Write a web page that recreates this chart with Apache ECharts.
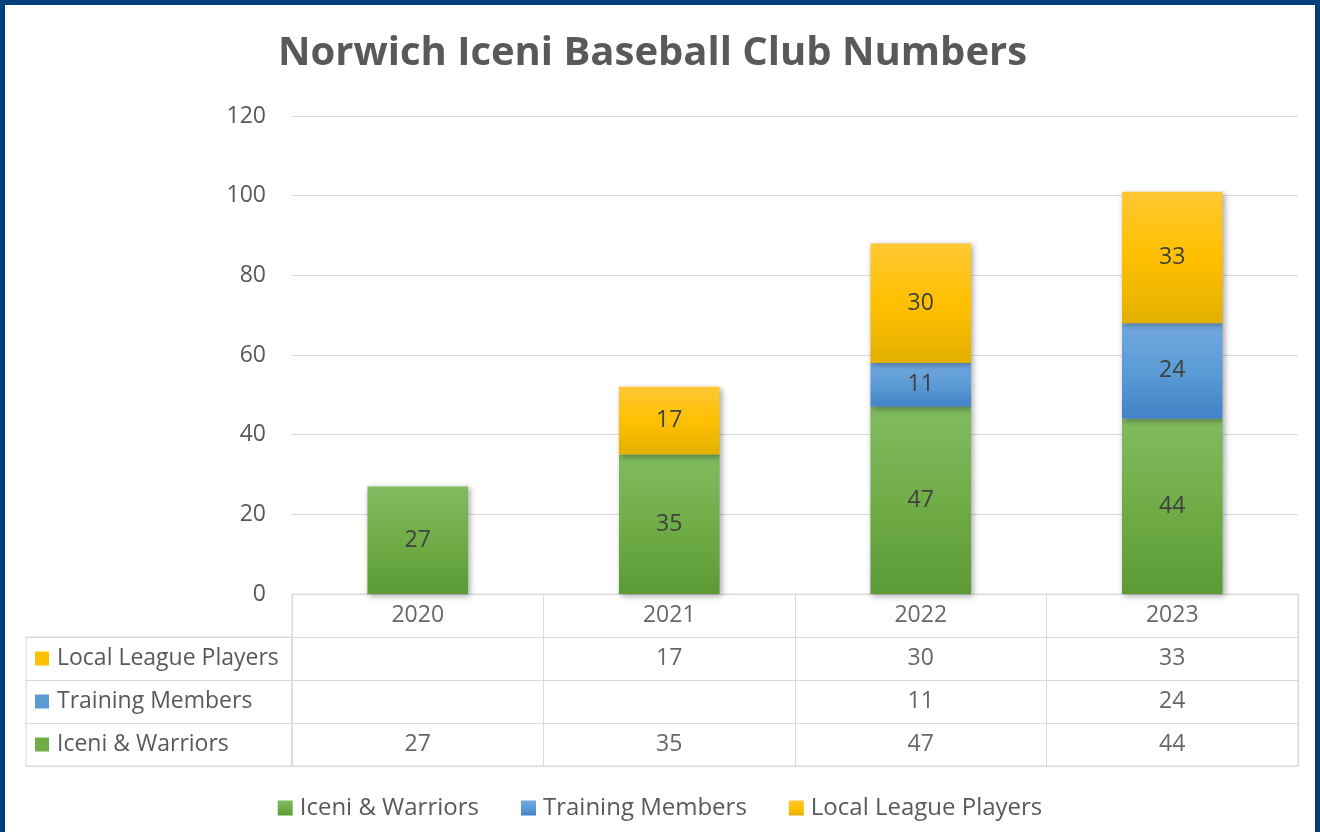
<!DOCTYPE html>
<html>
<head>
<meta charset="utf-8">
<script src="https://cdn.jsdelivr.net/npm/echarts@6/dist/echarts.min.js"></script>
<style>
  html, body { margin: 0; padding: 0; background: #003f7a; }
  #chart { position: absolute; left: 5px; top: 5px; width: 1310px; height: 827px; background: #fff; }
</style>
</head>
<body>
<div id="chart"></div>
<script>
const years = ['2020', '2021', '2022', '2023'];
const seriesNames = ['Iceni & Warriors', 'Training Members', 'Local League Players'];
const iceniWarriors = [27, 35, 47, 44];
const trainingMembers = [null, null, 11, 24];
const localLeague = [null, 17, 30, 33];

const seriesValues = [iceniWarriors, trainingMembers, localLeague];
const baseColors = ['#70ad47', '#5b9bd5', '#ffc000'];
const gradients = [
  ['#80bb60', '#70ad47', '#5c9a35'],
  ['#72a7de', '#5b9bd5', '#4282c6'],
  ['#ffc833', '#ffc000', '#e2b000']
];

const font = '"Open Sans", sans-serif';
const textGray = '#595959';
const gridLine = '#d9d9d9';

const chart = echarts.init(document.getElementById('chart'));

const barSeries = seriesNames.map((name, i) => ({
  name,
  type: 'bar',
  stack: 'total',
  barWidth: '40%',
  xAxisIndex: 0,
  yAxisIndex: 0,
  data: seriesValues[i],
  itemStyle: {
    color: new echarts.graphic.LinearGradient(0, 0, 0, 1, [
      {offset: 0, color: gradients[i][0]},
      {offset: 0.5, color: gradients[i][1]},
      {offset: 1, color: gradients[i][2]}
    ]),
    shadowBlur: 6,
    shadowOffsetX: 2,
    shadowOffsetY: 2,
    shadowColor: 'rgba(0,0,0,0.35)'
  },
  label: {
    show: true,
    position: 'inside',
    color: '#404040',
    fontFamily: font,
    fontSize: 23
  }
}));

// table cells
const headerCells = years.map(y => [y, 'header']);
const valueCells = [];
seriesNames.forEach((name, i) => {
  years.forEach((y, j) => {
    if (seriesValues[i][j] != null) valueCells.push([y, name, seriesValues[i][j]]);
  });
});

const squareKeys = {};
const rich = {t: {fontFamily: font, fontSize: 23, color: textGray, padding: [0, 0, 0, 8]}};
seriesNames.forEach((name, i) => {
  squareKeys[name] = 'sq' + i;
  rich['sq' + i] = {backgroundColor: baseColors[i], width: 14, height: 14};
});

chart.setOption({
  backgroundColor: '#fff',
  animation: false,
  title: {
    text: 'Norwich Iceni Baseball Club Numbers',
    left: 268,
    top: 24,
    textStyle: {fontFamily: font, fontSize: 40, fontWeight: 'bold', color: textGray}
  },
  legend: {
    data: seriesNames,
    bottom: 7,
    left: 'center',
    itemGap: 42,
    itemWidth: 15,
    itemHeight: 15,
    icon: 'rect',
    textStyle: {fontFamily: font, fontSize: 24, color: textGray, padding: [0, 0, 0, 2]}
  },
  grid: [
    {left: 287, right: 17, top: 111, bottom: 238},
    {left: 287, right: 17, top: 589, height: 172, show: true, borderColor: gridLine, borderWidth: 1},
    {left: 21, width: 266, top: 632, height: 129, show: true, borderColor: gridLine, borderWidth: 1}
  ],
  xAxis: [
    {
      gridIndex: 0, type: 'category', data: years,
      axisLine: {lineStyle: {color: gridLine}}, axisTick: {show: false}, axisLabel: {show: false}
    },
    {
      gridIndex: 1, type: 'category', data: years,
      axisLine: {show: false}, axisTick: {show: false}, axisLabel: {show: false},
      splitLine: {show: true, lineStyle: {color: gridLine}}
    },
    {gridIndex: 2, type: 'value', show: false, min: 0, max: 1}
  ],
  yAxis: [
    {
      gridIndex: 0, type: 'value', min: 0, max: 120, interval: 20,
      axisLine: {show: false}, axisTick: {show: false},
      axisLabel: {fontFamily: font, fontSize: 23, color: textGray, margin: 26},
      splitLine: {lineStyle: {color: gridLine}}
    },
    {
      gridIndex: 1, type: 'category', data: seriesNames.concat(['header']),
      axisLine: {show: false}, axisTick: {show: false}, axisLabel: {show: false},
      splitLine: {show: true, lineStyle: {color: gridLine}}
    },
    {
      gridIndex: 2, type: 'category', data: seriesNames,
      axisLine: {show: false}, axisTick: {show: false},
      axisLabel: {
        inside: true, margin: 9,
        formatter: v => '{' + squareKeys[v] + '|}{t|' + v + '}',
        rich
      },
      splitLine: {show: true, lineStyle: {color: gridLine}}
    }
  ],
  series: barSeries.concat([
    {
      name: 'years', type: 'scatter', xAxisIndex: 1, yAxisIndex: 1,
      symbolSize: 0, data: headerCells, silent: true,
      label: {show: true, position: 'inside', formatter: p => p.value[0],
        fontFamily: font, fontSize: 23, color: '#404040'}
    },
    {
      name: 'cells', type: 'scatter', xAxisIndex: 1, yAxisIndex: 1,
      symbolSize: 0, data: valueCells, silent: true,
      label: {show: true, position: 'inside', formatter: p => p.value[2],
        fontFamily: font, fontSize: 23, color: '#404040'}
    }
  ])
});
</script>
</body>
</html>
